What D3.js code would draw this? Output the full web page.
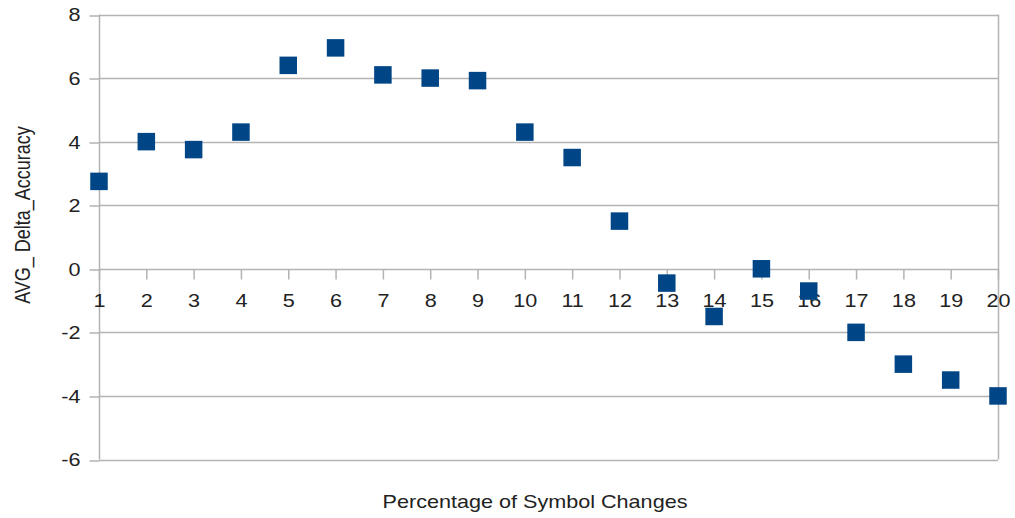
<!DOCTYPE html>
<html>
<head>
<meta charset="utf-8">
<script src="https://cdn.jsdelivr.net/npm/d3@7"></script>
<style>
  html, body { margin: 0; padding: 0; background: #fff; }
  svg { display: block; }
  text { font-family: "Liberation Sans", Arial, sans-serif; fill: #222; }
</style>
</head>
<body>
<svg id="chart" width="1015" height="518"></svg>
<script>
const categories = ["1","2","3","4","5","6","7","8","9","10","11","12","13","14","15","16","17","18","19","20"];
const values = [2.75, 4.0, 3.75, 4.3, 6.4, 6.95, 6.1, 6.0, 5.92, 4.3, 3.5, 1.5, -0.45, -1.5, 0.0, -0.7, -2.0, -3.0, -3.5, -4.0];
const yTicks = [-6, -4, -2, 0, 2, 4, 6, 8];
const xTitle = "Percentage of Symbol Changes";
const yTitle = "AVG_ Delta_Accuracy";

const sx = 1.2; // horizontal stretch of text in reference
const svg = d3.select("#chart");
const pLeft = 99, pRight = 998, pTop = 14.5, pBottom = 459.5;

const x = d3.scalePoint().domain(categories).range([pLeft, pRight]);
const y = d3.scaleLinear().domain([-6, 8]).range([pBottom, pTop]);

const gridColor = "#b3b3b3";

// horizontal gridlines
svg.append("g").selectAll("line").data(yTicks).join("line")
  .attr("x1", pLeft).attr("x2", pRight)
  .attr("y1", d => Math.round(y(d)) + 0.5).attr("y2", d => Math.round(y(d)) + 0.5)
  .attr("stroke", gridColor).attr("stroke-width", 1.5);

// left & right borders
svg.append("line").attr("x1", pLeft + 0.5).attr("x2", pLeft + 0.5)
  .attr("y1", pTop).attr("y2", pBottom).attr("stroke", gridColor).attr("stroke-width", 1.5);
svg.append("line").attr("x1", pRight + 0.5).attr("x2", pRight + 0.5)
  .attr("y1", pTop).attr("y2", pBottom).attr("stroke", gridColor).attr("stroke-width", 1.5);

// y axis
const yAxis = svg.append("g").attr("transform", `translate(${pLeft + 0.5},0)`)
  .call(d3.axisLeft(y).tickValues(yTicks).tickSize(10).tickSizeOuter(0).tickFormat(d3.format("d")));
yAxis.select(".domain").remove();
yAxis.selectAll(".tick line").attr("stroke", gridColor).attr("stroke-width", 1.5)
  .attr("transform", d => `translate(0,${Math.round(y(d)) + 0.5 - y(d)})`);
yAxis.selectAll(".tick text")
  .attr("x", -19 / sx).attr("dy", "0.36em")
  .attr("transform", `scale(${sx},1)`)
  .style("font-size", "18px").style("fill", "#222")
  .text(d => d < 0 ? "-" + Math.abs(d) : d);

// x axis at y=0
const y0 = Math.round(y(0)) + 0.5;
const xAxis = svg.append("g").attr("transform", `translate(0,${y0})`)
  .call(d3.axisBottom(x).tickSize(10).tickSizeOuter(0));
xAxis.select(".domain").remove();
xAxis.selectAll(".tick line").attr("stroke", gridColor).attr("stroke-width", 1.5);
xAxis.selectAll(".tick text")
  .attr("y", 38).attr("dy", 0)
  .attr("transform", `scale(${sx},1)`)
  .style("font-size", "18px").style("fill", "#222");

// markers
const ms = 17.5;
svg.append("g").selectAll("rect").data(values).join("rect")
  .attr("x", (d, i) => x(categories[i]) - ms / 2)
  .attr("y", d => y(d) - ms / 2)
  .attr("width", ms).attr("height", ms)
  .attr("fill", "#004586");

// titles
svg.append("text")
  .attr("transform", `translate(535,508) scale(${sx},1)`)
  .attr("text-anchor", "middle").style("font-size", "18px")
  .text(xTitle);

svg.append("text")
  .attr("transform", `translate(30,215) scale(${sx},1) rotate(-90)`)
  .attr("text-anchor", "middle").style("font-size", "18px")
  .text(yTitle);
</script>
</body>
</html>
